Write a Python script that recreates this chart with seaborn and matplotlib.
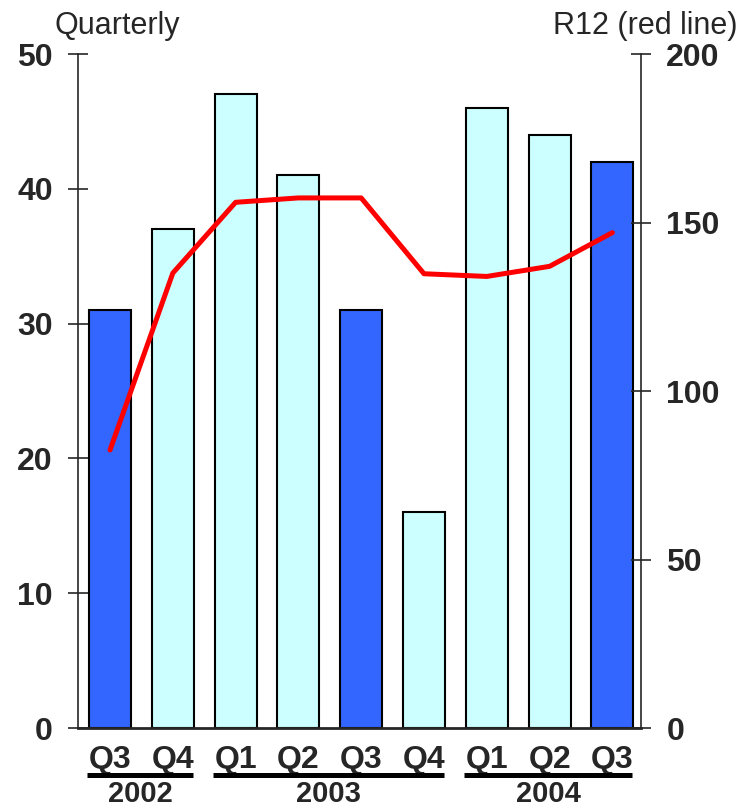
import numpy as np
import matplotlib
matplotlib.use("Agg")
import matplotlib.pyplot as plt
import matplotlib.transforms as mtransforms
import seaborn as sns

# data
quarters = ["Q3", "Q4", "Q1", "Q2", "Q3", "Q4", "Q1", "Q2", "Q3"]
years = ["2002", "2003", "2004"]
year_groups = [(0, 1), (2, 5), (6, 8)]
quarterly = [31, 37, 47, 41, 31, 16, 46, 44, 42]
r12 = [82.5, 135, 156, 157.3, 157.3, 134.8, 134, 137, 147]
highlight = [True, False, False, False, True, False, False, False, True]

dark_blue = "#3366FF"
light_cyan = "#CCFFFF"

sns.set_style("white")
plt.rcParams["font.family"] = ["Liberation Sans", "DejaVu Sans"]

fig = plt.figure(figsize=(7.5, 8.1), dpi=100)
ax = fig.add_axes([0.104, 0.1012, 0.751, 0.8321])

idx = list(range(len(quarterly)))
colors = [dark_blue if h else light_cyan for h in highlight]
sns.barplot(x=idx, y=quarterly, hue=idx, palette=colors, legend=False,
            width=0.67, edgecolor="black", linewidth=1.5, saturation=1, ax=ax)

ax.set_ylim(0, 50)
ax.set_xlim(-0.51, 8.46)
ax.set_yticks([0, 10, 20, 30, 40, 50])
ax.set_xticks(idx)
ax.set_xticklabels(quarters)
ax.tick_params(axis="y", direction="inout", length=14, width=1.2, pad=11,
               labelsize=23)
ax.tick_params(axis="x", length=0, pad=12, labelsize=23)
for lab in ax.get_yticklabels() + ax.get_xticklabels():
    lab.set_fontweight("bold")
for s in ["top", "right"]:
    ax.spines[s].set_visible(False)
ax.spines["left"].set_linewidth(1.2)
ax.spines["bottom"].set_linewidth(2)
ax.set_xlabel("")
ax.set_ylabel("")

ax2 = ax.twinx()
sns.lineplot(x=idx, y=r12, color="#FF0000", linewidth=3.6, ax=ax2)
ax2.set_ylim(0, 200)
ax2.set_yticks([0, 50, 100, 150, 200])
ax2.tick_params(axis="y", direction="inout", length=14, width=1.2, pad=11,
                labelsize=23)
for lab in ax2.get_yticklabels():
    lab.set_fontweight("bold")
for s in ["top", "left", "bottom"]:
    ax2.spines[s].set_visible(False)
ax2.spines["right"].set_linewidth(1.2)
ax2.set_ylabel("")

# year brackets under the quarter labels
trans = mtransforms.blended_transform_factory(ax.transData, ax.transAxes)
for year, (a, b) in zip(years, year_groups):
    x0, x1 = a - 0.36, b + 0.32
    ax.plot([x0, x1], [-0.0697, -0.0697], color="black", linewidth=3.6,
            transform=trans, clip_on=False, solid_capstyle="butt")
    ax.text((x0 + x1) / 2, -0.0985, year, transform=trans, ha="center",
            va="center", fontsize=21, fontweight="bold")

fig.text(0.157, 0.968, "Quarterly", ha="center", va="center", fontsize=22)
fig.text(0.86, 0.968, "R12 (red line)", ha="center", va="center", fontsize=22)

fig.savefig("out.png", dpi=100)
